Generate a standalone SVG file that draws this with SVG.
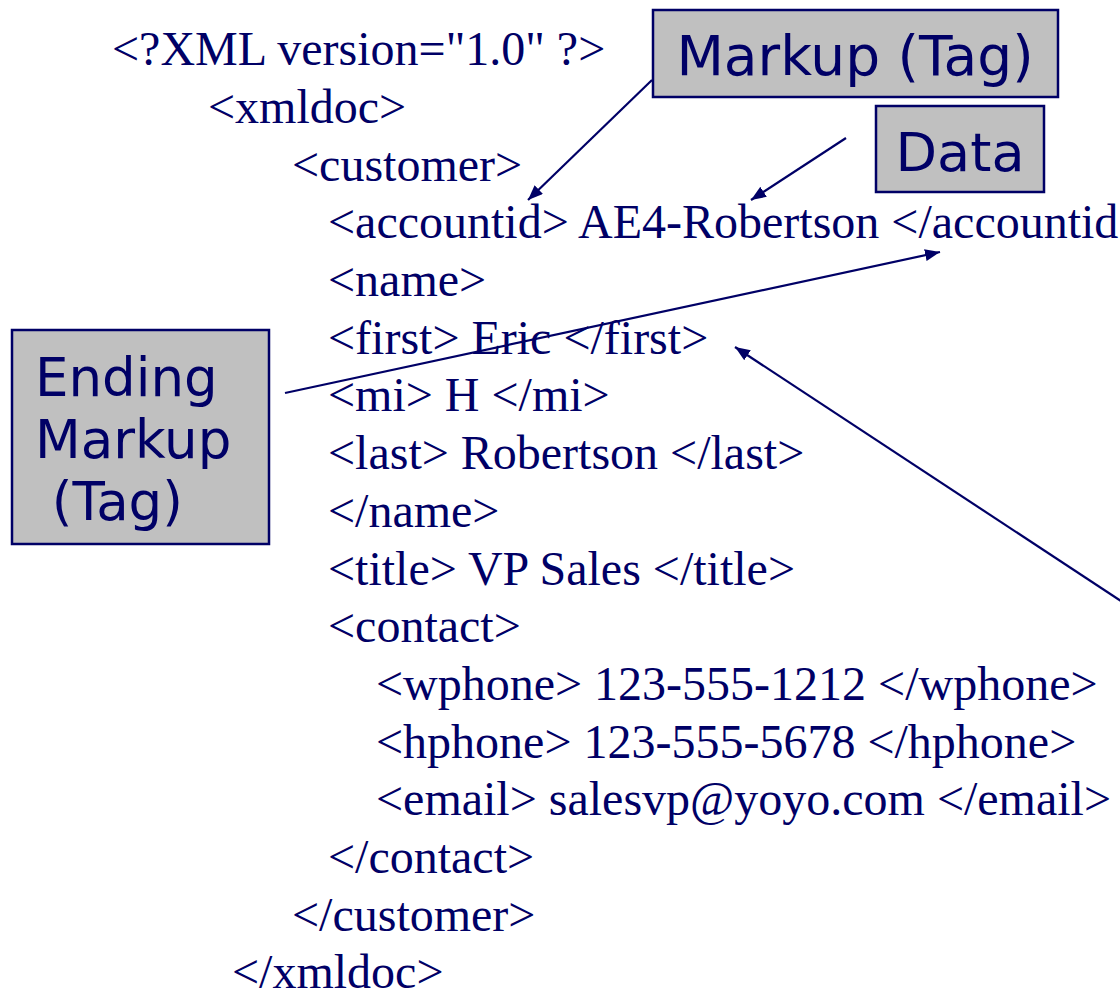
<svg xmlns="http://www.w3.org/2000/svg" width="1120" height="997" viewBox="0 0 1120 997">
<style>
.code{font-family:"Liberation Serif","Times New Roman",serif;font-size:48px;fill:#000066}
.box{fill:#C0C0C0;stroke:#000066;stroke-width:2.5}
.lbl{font-family:"DejaVu Sans",Verdana,sans-serif;fill:#000066}
.conn{stroke:#000066;stroke-width:2.2;fill:none}
</style>
<defs>
<marker id="ah" viewBox="0 0 10 10" refX="10" refY="5" markerWidth="15" markerHeight="12" markerUnits="userSpaceOnUse" orient="auto" preserveAspectRatio="none">
<path d="M0,0 L10,5 L0,10 z" fill="#000066"/>
</marker>
</defs>
<rect width="1120" height="997" fill="#fff"/>
<g id="code">
<text class="code" x="112" y="65">&lt;?XML version="1.0" ?&gt;</text>
<text class="code" x="208" y="123">&lt;xmldoc&gt;</text>
<text class="code" x="292" y="181">&lt;customer&gt;</text>
<text class="code" x="328" y="238">&lt;accountid&gt; AE4-Robertson &lt;/accountid&gt;</text>
<text class="code" x="328" y="296">&lt;name&gt;</text>
<text class="code" x="328" y="354">&lt;first&gt; Eric &lt;/first&gt;</text>
<text class="code" x="328" y="411">&lt;mi&gt; H &lt;/mi&gt;</text>
<text class="code" x="328" y="469">&lt;last&gt; Robertson &lt;/last&gt;</text>
<text class="code" x="328" y="527">&lt;/name&gt;</text>
<text class="code" x="328" y="585">&lt;title&gt; VP Sales &lt;/title&gt;</text>
<text class="code" x="328" y="642">&lt;contact&gt;</text>
<text class="code" x="376" y="700">&lt;wphone&gt; 123-555-1212 &lt;/wphone&gt;</text>
<text class="code" x="376" y="758">&lt;hphone&gt; 123-555-5678 &lt;/hphone&gt;</text>
<text class="code" x="376" y="815">&lt;email&gt; salesvp@yoyo.com &lt;/email&gt;</text>
<text class="code" x="328" y="873">&lt;/contact&gt;</text>
<text class="code" x="292" y="931">&lt;/customer&gt;</text>
<text class="code" x="232" y="988">&lt;/xmldoc&gt;</text>
</g>
<g id="connectors">
<line class="conn" x1="652" y1="80" x2="528" y2="200" marker-end="url(#ah)"/>
<line class="conn" x1="846" y1="138" x2="751" y2="200" marker-end="url(#ah)"/>
<line class="conn" x1="285" y1="393" x2="940" y2="252" marker-end="url(#ah)"/>
<line class="conn" x1="1124" y1="603" x2="735" y2="347" marker-end="url(#ah)"/>
</g>
<g id="markup-tag">
<rect class="box" x="653" y="10" width="405" height="87"/>
<text class="lbl" x="855" y="75" font-size="55" text-anchor="middle">Markup (Tag)</text>
</g>
<g id="data">
<rect class="box" x="876" y="106" width="168" height="86"/>
<text class="lbl" x="960" y="171" font-size="54" text-anchor="middle">Data</text>
</g>
<g id="ending-markup">
<rect class="box" x="12" y="330" width="257" height="214"/>
<text class="lbl" font-size="53"><tspan x="35" y="396">Ending</tspan><tspan x="35" y="458">Markup</tspan><tspan x="35" y="520"> (Tag)</tspan></text>
</g>
</svg>
